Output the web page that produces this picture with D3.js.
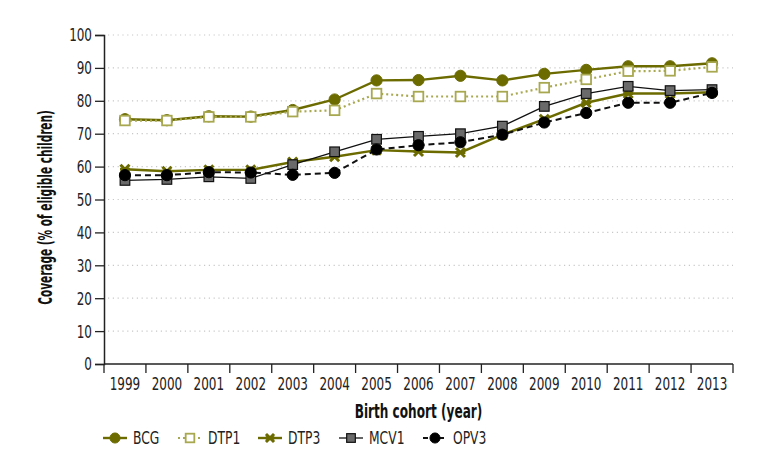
<!DOCTYPE html>
<html><head><meta charset="utf-8">
<script src="https://cdn.jsdelivr.net/npm/d3@7"></script>
<style>
body{margin:0;background:#fff;}
text{font-family:"DejaVu Sans Condensed","DejaVu Sans",sans-serif;font-stretch:condensed;}
</style></head>
<body><svg id="c" width="771" height="472"></svg>
<script>
const years = ["1999","2000","2001","2002","2003","2004","2005","2006","2007","2008","2009","2010","2011","2012","2013"];
const yTicks = [0,10,20,30,40,50,60,70,80,90,100];
const BCG  = [74.4,74.1,75.3,75.2,77.2,80.4,86.2,86.3,87.6,86.2,88.2,89.4,90.5,90.5,91.4];
const DTP1 = [74.0,74.0,75.1,75.1,76.7,77.1,82.2,81.3,81.3,81.3,84.0,86.5,89.0,89.1,90.3];
const DTP3 = [59.2,58.6,59.0,59.0,61.4,63.0,65.0,64.6,64.3,69.7,74.4,79.4,82.2,82.2,82.6];
const MCV1 = [55.8,56.1,56.9,56.4,60.6,64.5,68.3,69.2,70.0,72.3,78.3,82.2,84.4,83.1,83.4];
const OPV3 = [57.4,57.4,58.3,58.2,57.5,58.1,65.2,66.5,67.4,69.7,73.4,76.3,79.4,79.4,82.4];

const olive = "#6b6b00", light = "#a8a850";
const series = [
  {name:"BCG", values:BCG, stroke:olive, dash:null, w:2.4, marker:"circle", fill:olive, mstroke:olive},
  {name:"DTP1", values:DTP1, stroke:light, dash:"2,3", w:2.2, marker:"square", fill:"#fff", mstroke:light},
  {name:"DTP3", values:DTP3, stroke:olive, dash:null, w:2.4, marker:"cross", fill:olive, mstroke:olive},
  {name:"MCV1", values:MCV1, stroke:"#111", dash:null, w:1.3, marker:"square", fill:"#6a6a6a", mstroke:"#111"},
  {name:"OPV3", values:OPV3, stroke:"#111", dash:"6,4", w:2, marker:"circle", fill:"#000", mstroke:"#000"}
];

function squeeze(sx){
  return sel => sel.each(function(){
    const t = d3.select(this);
    const xx = +(t.attr("x")||0);
    t.attr("x", xx/sx).attr("transform", `scale(${sx},1)`);
  });
}

const svg = d3.select("#c");
const m = {l:104, r:38, t:35, b:108};
const W = 771, H = 472;
const x = d3.scaleBand().domain(years).range([m.l, W-m.r]);
const y = d3.scaleLinear().domain([0,100]).range([H-m.b, m.t]);

// grid
svg.append("g").selectAll("line").data(yTicks.filter(d=>d>0)).join("line")
  .attr("x1", m.l+4).attr("x2", W-m.r).attr("y1", d=>y(d)).attr("y2", d=>y(d))
  .attr("stroke","#c8c8c8").attr("stroke-width",1.2).attr("stroke-dasharray","1.2,3.6");

// y axis
const ya = svg.append("g").attr("transform",`translate(${m.l},0)`)
  .call(d3.axisLeft(y).tickValues(yTicks).tickSize(9).tickPadding(3));
ya.select(".domain").attr("stroke","#222").attr("stroke-width",1.5);
ya.selectAll(".tick line").attr("stroke","#222").attr("stroke-width",1.3);
ya.selectAll("text").attr("font-size",18.5).attr("fill","#222").call(squeeze(0.72));

// x axis
const xa = svg.append("g").attr("transform",`translate(0,${y(0)})`)
  .call(d3.axisBottom(x).tickSize(0).tickPadding(13));
xa.select(".domain").attr("stroke","#222").attr("stroke-width",1.5).attr("d",`M${m.l},0H${W-m.r}`);
xa.selectAll("text").attr("font-size",18.5).attr("fill","#222").call(squeeze(0.72));
const bounds = years.map(d=>x(d)).concat([x(years[years.length-1])+x.bandwidth()]);
xa.append("g").selectAll("line").data(bounds).join("line")
  .attr("x1",d=>d).attr("x2",d=>d).attr("y1",0).attr("y2",9)
  .attr("stroke","#222").attr("stroke-width",1.3);

// titles
svg.append("text").attr("x",(m.l+W-m.r)/2).attr("y",418).attr("text-anchor","middle")
  .attr("font-weight","bold").attr("font-size",19.5).attr("fill","#111").text("Birth cohort (year)").call(squeeze(0.69));
svg.append("g").attr("transform",`translate(52,${(m.t+y(0))/2+8}) rotate(-90)`)
  .append("text").attr("text-anchor","middle")
  .attr("font-weight","bold").attr("font-size",19.5).attr("fill","#111").text("Coverage (% of eligible children)")
  .attr("transform",`scale(0.6,1)`);

function drawMarker(g, s, cx, cy, scale){
  scale = scale||1;
  if(s.marker==="circle"){
    g.append("circle").attr("cx",cx).attr("cy",cy).attr("r",5.6*scale)
      .attr("fill",s.fill).attr("stroke",s.mstroke).attr("stroke-width",1);
  } else if(s.marker==="square"){
    const h=4.8*scale;
    g.append("rect").attr("x",cx-h).attr("y",cy-h).attr("width",2*h).attr("height",2*h)
      .attr("fill",s.fill).attr("stroke",s.mstroke).attr("stroke-width",s.name==="DTP1"?1.8:1.2);
  } else {
    const h=4.5*scale;
    g.append("path").attr("d",`M${cx-h},${cy-h}L${cx+h},${cy+h}M${cx-h},${cy+h}L${cx+h},${cy-h}M${cx-h*1.1},${cy}L${cx+h*1.1},${cy}`)
      .attr("stroke",s.mstroke).attr("stroke-width",3).attr("fill","none");
  }
}

const line = d3.line().x((d,i)=>x(years[i])+x.bandwidth()/2).y(d=>y(d));
series.forEach(s=>{
  const g = svg.append("g");
  g.append("path").datum(s.values).attr("d",line).attr("fill","none")
    .attr("stroke",s.stroke).attr("stroke-width",s.w).attr("stroke-dasharray",s.dash);
  s.values.forEach((v,i)=>drawMarker(g,s,x(years[i])+x.bandwidth()/2,y(v)));
});

// legend
const legX = [103,178,258,339,423];
const leg = svg.append("g");
series.forEach((s,i)=>{
  const lx = legX[i], ly = 438;
  const g = leg.append("g");
  const lw = 24;
  g.append("line").attr("x1",lx).attr("x2",lx+lw).attr("y1",ly).attr("y2",ly)
    .attr("stroke",s.stroke).attr("stroke-width",s.w).attr("stroke-dasharray",s.dash? (s.name==="OPV3"?"5,11":"2,3"):null);
  drawMarker(g,s,lx+lw/2,ly,0.9);
  g.append("text").attr("x",lx+lw+6).attr("y",ly+6.5).attr("font-size",18.5).attr("fill","#222").text(s.name).call(squeeze(0.74));
});
</script></body></html>
